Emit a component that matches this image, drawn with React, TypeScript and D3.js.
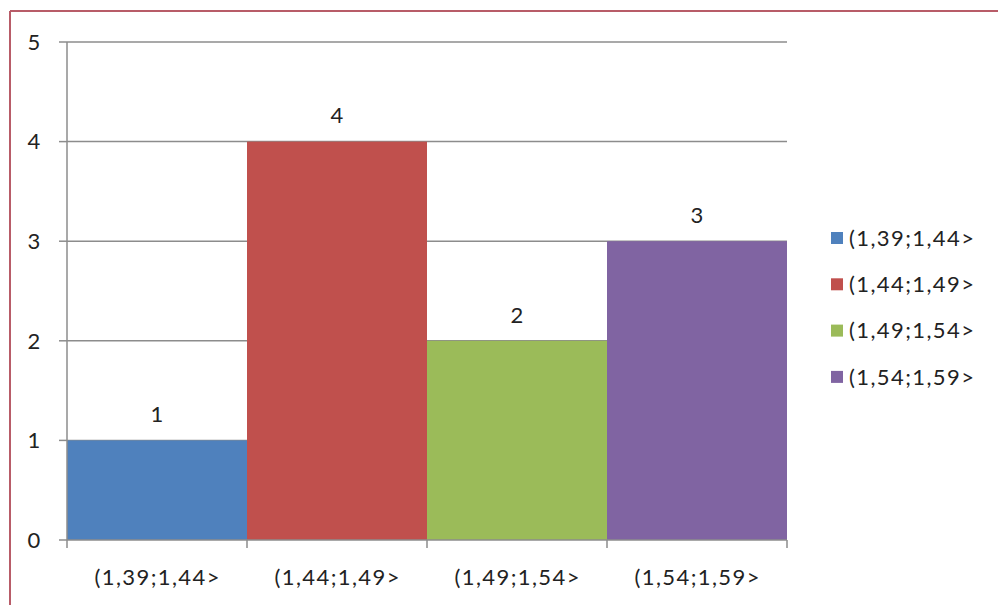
import React from "react";
import * as d3 from "d3";

const categories = ["(1,39;1,44>", "(1,44;1,49>", "(1,49;1,54>", "(1,54;1,59>"];
const counts = [1, 4, 2, 3];
const colors = ["#4f81bd", "#c0504d", "#9bbb59", "#8064a2"];
const yTicks = [0, 1, 2, 3, 4, 5];

const W = 998;
const H = 605;
const plot = { left: 67, right: 787, top: 42, bottom: 540 };
const font = "Lato, 'Open Sans', sans-serif";
const fs = 22;
const ls = 1.4;

export default function App() {
  const x = d3
    .scaleBand<string>()
    .domain(categories)
    .range([plot.left, plot.right])
    .paddingInner(0)
    .paddingOuter(0);
  const y = d3.scaleLinear().domain([0, 5]).range([plot.bottom, plot.top]);
  const bounds = [...categories.map((c) => x(c)!), plot.right];

  return (
    <svg
      width={W}
      height={H}
      style={{ position: "absolute", left: 0, top: 0, background: "#fff" }}
    >
      <rect x={0} y={0} width={W} height={H} fill="#fff" />
      {/* outer chart frame */}
      <line x1={10} y1={11} x2={W} y2={11} stroke="#b85c68" strokeWidth={2} />
      <line x1={10} y1={11} x2={10} y2={H} stroke="#b85c68" strokeWidth={2} />

      {/* gridlines and y ticks */}
      {yTicks.map((t) => (
        <g key={t}>
          {t > 0 && (
            <line
              x1={plot.left}
              x2={plot.right}
              y1={y(t)}
              y2={y(t)}
              stroke="#8c8c8c"
              strokeWidth={1.5}
            />
          )}
          <line x1={59} x2={plot.left} y1={y(t)} y2={y(t)} stroke="#8c8c8c" strokeWidth={1.5} />
          <text
            x={34}
            y={y(t)}
            dy="0.35em"
            textAnchor="middle"
            fontFamily={font}
            fontSize={fs}
            fill="#222"
          >
            {t}
          </text>
        </g>
      ))}

      {/* bars */}
      {categories.map((c, i) => (
        <rect
          key={c}
          x={x(c)}
          y={y(counts[i])}
          width={x.bandwidth()}
          height={y(0) - y(counts[i])}
          fill={colors[i]}
        />
      ))}

      {/* value labels */}
      {categories.map((c, i) => (
        <text
          key={c}
          x={x(c)! + x.bandwidth() / 2}
          y={y(counts[i]) - 26}
          dy="0.35em"
          textAnchor="middle"
          fontFamily={font}
          fontSize={fs}
          fill="#222"
        >
          {counts[i]}
        </text>
      ))}

      {/* axes */}
      <line x1={plot.left} x2={plot.left} y1={plot.top} y2={plot.bottom} stroke="#8c8c8c" strokeWidth={1.5} />
      <line x1={plot.left} x2={plot.right} y1={plot.bottom} y2={plot.bottom} stroke="#8c8c8c" strokeWidth={1.5} />
      {bounds.map((b, i) => (
        <line key={i} x1={b} x2={b} y1={plot.bottom} y2={plot.bottom + 8} stroke="#8c8c8c" strokeWidth={1.5} />
      ))}
      {categories.map((c) => (
        <text
          key={c}
          x={x(c)! + x.bandwidth() / 2 + ls / 2}
          y={577}
          dy="0.35em"
          textAnchor="middle"
          fontFamily={font}
          fontSize={fs}
          letterSpacing={ls}
          fill="#222"
        >
          {c}
        </text>
      ))}

      {/* legend */}
      {categories.map((c, i) => {
        const cy = 238 + i * 46.3;
        return (
          <g key={c}>
            <rect x={831} y={cy - 6} width={12} height={12} fill={colors[i]} />
            <text
              x={849}
              y={cy}
              dy="0.35em"
              fontFamily={font}
              fontSize={fs}
              letterSpacing={ls}
              fill="#222"
            >
              {c}
            </text>
          </g>
        );
      })}
    </svg>
  );
}
